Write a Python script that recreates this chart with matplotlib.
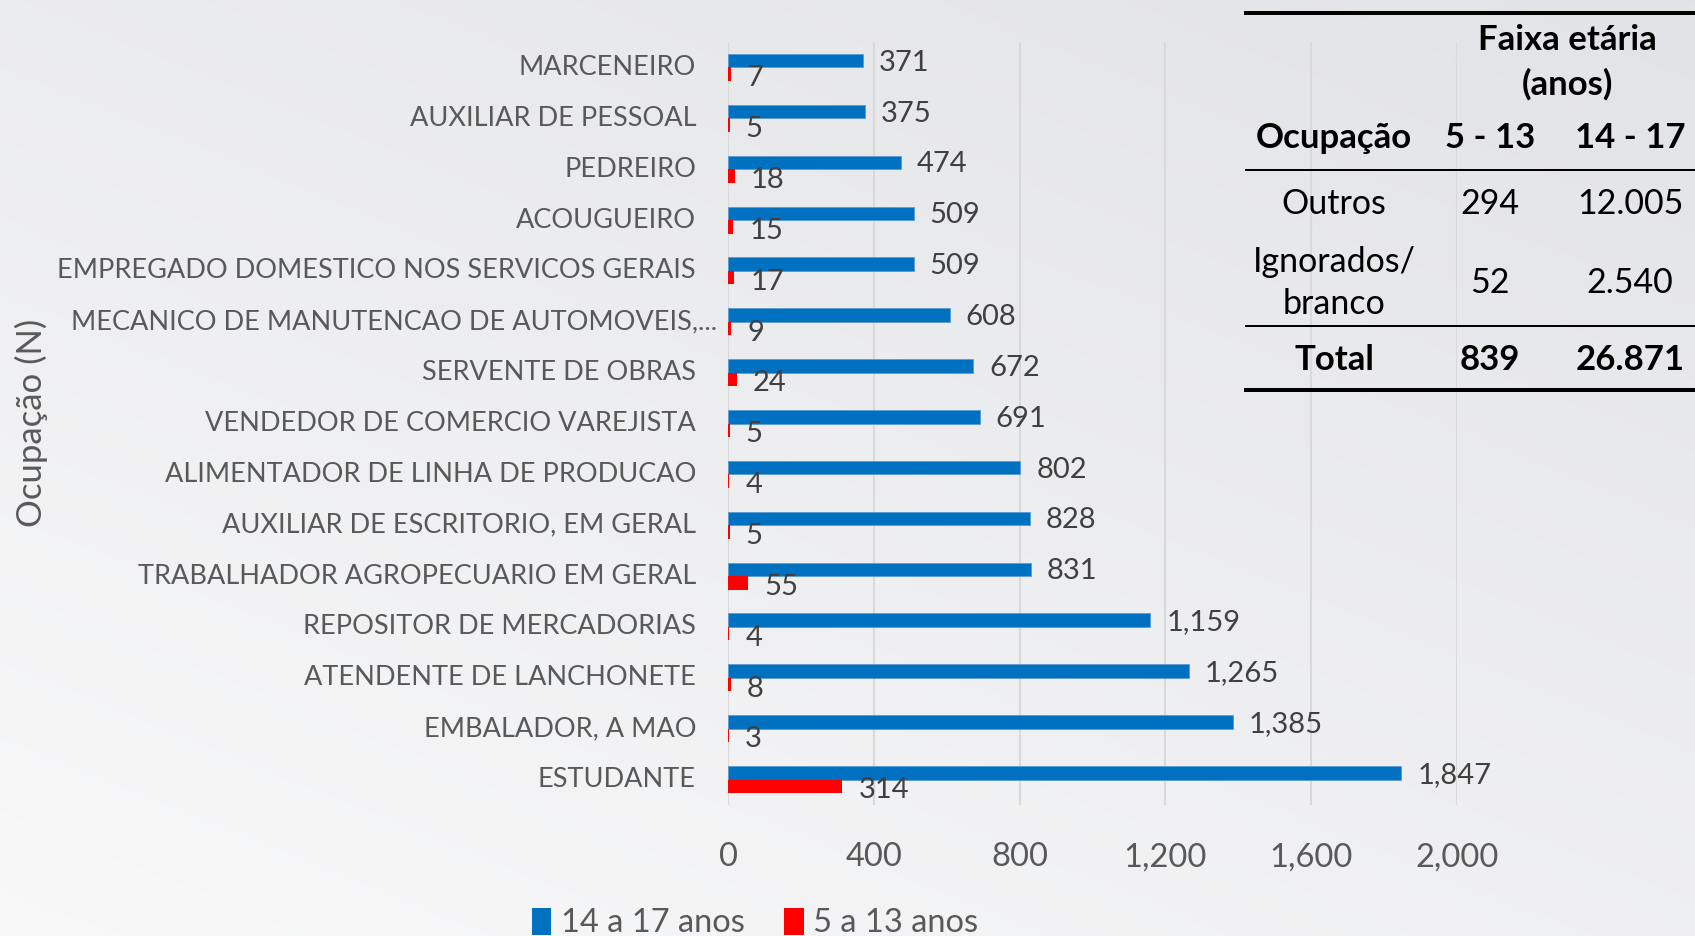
import numpy as np
import matplotlib
matplotlib.use("Agg")
import matplotlib.pyplot as plt
from matplotlib.lines import Line2D
from matplotlib.patches import Patch
from matplotlib.transforms import offset_copy

plt.rcParams['font.family'] = ['Lato', 'DejaVu Sans']

# ---- data ------------------------------------------------------------------
ocupacoes = ["MARCENEIRO", "AUXILIAR DE PESSOAL", "PEDREIRO", "ACOUGUEIRO",
             "EMPREGADO DOMESTICO NOS SERVICOS GERAIS",
             "MECANICO DE MANUTENCAO DE AUTOMOVEIS,...",
             "SERVENTE DE OBRAS", "VENDEDOR DE COMERCIO VAREJISTA",
             "ALIMENTADOR DE LINHA DE PRODUCAO", "AUXILIAR DE ESCRITORIO, EM GERAL",
             "TRABALHADOR AGROPECUARIO EM GERAL", "REPOSITOR DE MERCADORIAS",
             "ATENDENTE DE LANCHONETE", "EMBALADOR, A MAO", "ESTUDANTE"]
n_14_17 = [371, 375, 474, 509, 509, 608, 672, 691, 802, 828, 831, 1159, 1265, 1385, 1847]
n_5_13 = [7, 5, 18, 15, 17, 9, 24, 5, 4, 5, 55, 4, 8, 3, 314]
xticks = [0, 400, 800, 1200, 1600, 2000]

tab_header = ["Ocupação", "5 - 13", "14 - 17"]
tab_rows = ["Outros", "Ignorados/\nbranco", "Total"]
tab_5_13 = ["294", "52", "839"]
tab_14_17 = ["12.005", "2.540", "26.871"]

BLUE, RED = "#0070C0", "#FF0000"
W, H = 1695, 936
fx = lambda px: px / W
fy = lambda py: 1 - py / H

fig = plt.figure(figsize=(W / 100, H / 100), dpi=100)

# background gradient (grey top-right -> near white bottom-left)
bg = fig.add_axes([0, 0, 1, 1], zorder=-10)
gx, gy = np.meshgrid(np.linspace(0, 1, 400), np.linspace(0, 1, 220))
t = np.clip(0.55 * gx + 0.75 * (1 - gy), 0, 1.3) / 1.3
c0, c1 = np.array([0.975, 0.975, 0.978]), np.array([0.886, 0.890, 0.902])
img = c0 + (c1 - c0) * t[..., None]
bg.imshow(img, aspect="auto", extent=[0, 1, 0, 1], origin="upper")
bg.axis("off")

# ---- bar chart -------------------------------------------------------------
ax = fig.add_axes([fx(728), fy(805), fx(1457) - fx(728), fy(42) - fy(805)])
ax.patch.set_alpha(0)
y = np.arange(len(ocupacoes))
h = 0.265
ax.barh(y - h / 2, n_14_17, height=h, color=BLUE, edgecolor="#5b9bd5", lw=0.6, zorder=3)
ax.barh(y + h / 2, n_5_13, height=h, color=RED, zorder=3)
ax.set_xlim(0, 2000)
ax.set_ylim(len(ocupacoes) - 0.5, -0.5)
ax.set_xticks(xticks)
ax.set_xticklabels([f"{v:,}" for v in xticks], fontsize=23.5, color="#595959")
ax.tick_params(axis="x", length=0, pad=27)
ax.set_yticks([])
ax.grid(axis="x", color="#d9d9d9", lw=1.5, zorder=0)
for s in ax.spines.values():
    s.set_visible(False)

for i, (b, r) in enumerate(zip(n_14_17, n_5_13)):
    ax.annotate(f"{b:,}", (b, i - h / 2), xytext=(16, -2), textcoords="offset pixels",
                va="center", fontsize=21, color="#404040", annotation_clip=False)
    ax.annotate(f"{r:,}", (r, i + h / 2), xytext=(16, -4), textcoords="offset pixels",
                va="center", fontsize=21, color="#404040", annotation_clip=False)

lab_tr = offset_copy(ax.get_yaxis_transform(), fig=fig, x=-32, y=0, units="dots")
lab_tr2 = offset_copy(ax.get_yaxis_transform(), fig=fig, x=-11, y=0, units="dots")
for i, name in enumerate(ocupacoes):
    tr = lab_tr2 if name.endswith("...") else lab_tr
    ax.text(0, i, name, transform=tr, ha="right", va="center", fontsize=19.5, color="#595959")

fig.text(fx(31), fy(423), "Ocupação (N)", rotation=90, ha="center", va="center",
         fontsize=25, color="#595959")

handles = [Patch(facecolor=BLUE), Patch(facecolor=RED)]
fig.legend(handles, ["14 a 17 anos", "5 a 13 anos"], loc="center",
           bbox_to_anchor=(fx(755), fy(923)), ncol=2, frameon=False, fontsize=23.5,
           handlelength=0.6, handleheight=0.9, handletextpad=0.3, columnspacing=1.2,
           labelcolor="#595959")

# ---- summary table ---------------------------------------------------------
tx0, tx1 = fx(1246), 1.0
for py, lw in [(13, 4), (170, 2), (326, 2), (390, 4)]:
    fig.add_artist(Line2D([tx0, tx1], [fy(py), fy(py)], color="black", lw=lw * 0.72))
cols = [fx(1334), fx(1490), fx(1630)]
fig.text(fx(1567), fy(40), "Faixa etária", ha="center", va="center", fontsize=25, fontweight="bold")
fig.text(fx(1567), fy(84), "(anos)", ha="center", va="center", fontsize=25, fontweight="bold")
for cx, txt in zip(cols, tab_header):
    fig.text(cx, fy(138), txt, ha="center", va="center", fontsize=25, fontweight="bold")
row_y = [204, 283, 360]
for ry, name, a, b in zip(row_y, tab_rows, tab_5_13, tab_14_17):
    wt = "bold" if name == "Total" else "normal"
    fs = 25 if wt == "bold" else 24.5
    fig.text(cols[0], fy(ry), name, ha="center", va="center", fontsize=fs, fontweight=wt,
             linespacing=1.35)
    fig.text(cols[1], fy(ry), a, ha="center", va="center", fontsize=fs, fontweight=wt)
    fig.text(cols[2], fy(ry), b, ha="center", va="center", fontsize=fs, fontweight=wt)

fig.savefig("out.png", dpi=100)
